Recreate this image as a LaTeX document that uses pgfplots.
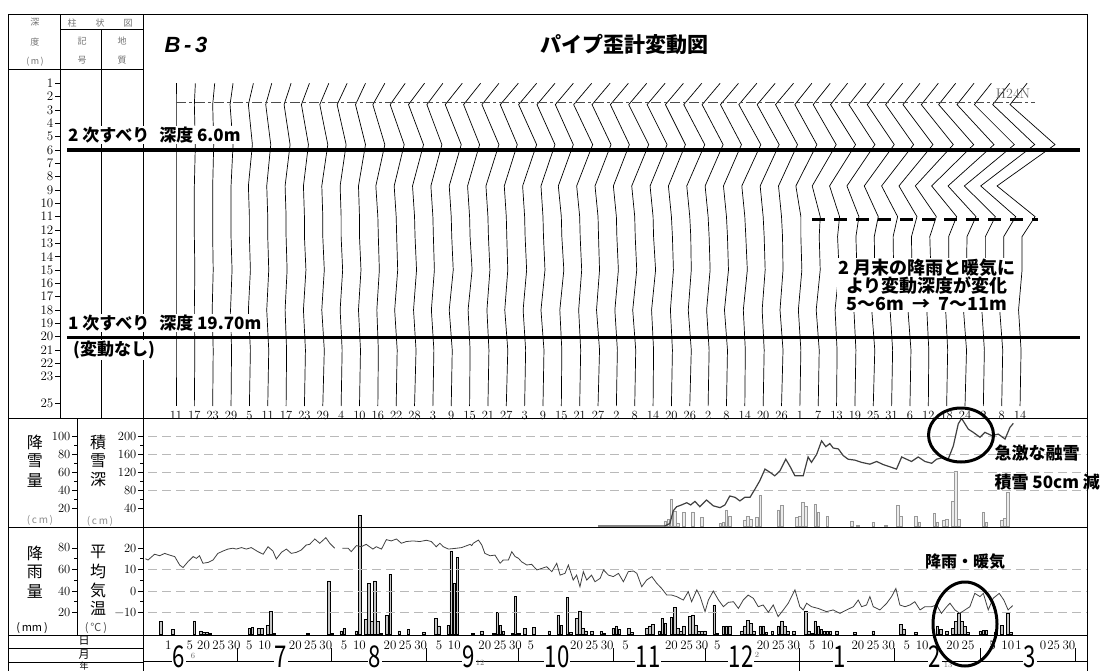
\documentclass[border=0pt]{standalone}
\usepackage{fontspec}
\usepackage{graphicx}
\usepackage{pgfplots}
\pgfplotsset{compat=1.18}
\usepackage{pgfplotstable}
\newfontfamily\jp{Noto Sans CJK JP}
\newfontfamily\lsans{Liberation Sans}
\newcommand{\fs}[1]{\fontsize{#1}{#1}\selectfont}
\pgfplotsset{/pgf/number format/assume math mode=true}

% pipe strain profiles: horizontal offset (px) at each depth (m), one column per reading
\pgfplotstableread{
d p0 p1 p2 p3 p4 p5 p6 p7 p8 p9 p10 p11 p12 p13 p14 p15 p16 p17 p18 p19 p20 p21 p22 p23 p24 p25 p26 p27 p28 p29 p30 p31 p32 p33 p34 p35 p36 p37 p38 p39 p40 p41 p42 p43 p44 p45 p46
1 0 1 2 2 4 4 5 5 6 6 6 7 9 10 10 11 11 11 12 12 12 12 12 12 12 12 12 12 12 12 12 12 12 12 12 12 11 11 11 11 10 10 9 9 8 8 7
2.6 0 0 0 -1 -1 -2 -2 -3 -3 -4 -4 -5 -6 -6 -6 -6 -6 -6 -6 -6 -6 -6 -6 -6 -6 -6 -6 -6 -6 -6 -6 -6 -6 -6 -5 -5 -6 -6 -6 -6 -7 -7 -8 -8 -9 -9 -10
5.6 0 1 1 2 3 3 4 4 5 5 6 7 8 9 9 10 10 11 11 12 12 12 13 13 13 14 14 14 15 15 15 16 16 16 17 18 19 20 21 22 23 25 27 29 31 33 35
8.7 0 0 0 0 -1 -1 -1 -1 -1 -1 -1 -2 -2 -2 -2 -2 -2 -2 -2 -2 -2 -3 -3 -3 -3 -3 -3 -3 -3 -3 -3 -3 -3 -3 -4 -6 -7 -8 -9 -10 -11 -13 -15 -17 -19 -21 -23
11 0 0 0 0 0 0 0 0 0 0 0 0 0 0 0 0 0 0 0 0 0 0 0 0 0 0 0 0 0 0 0 0 0 0 1 2 3 4 5 6 7 8 10 11 12 14 15
12.5 0 0 0 0 0 0 0 0 0 0 0 0.5 0.5 0.5 0.5 0.5 0.5 0.5 0.5 0.5 0.5 0.5 0.5 0.5 0.5 0.5 0.5 1 1 1 1 1 1 1 1 1 1 1 1 1.5 1.5 1.5 2 2 2 2 2
15 0 0.5 0.5 1 1 1 1 1.5 1.5 1.5 1.5 1.5 1.5 2 1.5 2 2.5 2 1.5 2 2 2.5 2 1.5 2 2 2.5 2 1.5 2 2 2.5 2 1.5 2 2 2.5 2 1.5 2 2 2.5 2 1.5 2 2 2
18 0 0 -0.5 -0.5 -1 -1 -1 -1 -1 -1 -1 -1 -1.5 -1 -1.5 -2 -1.5 -1 -1.5 -1.5 -2 -1.5 -1 -1.5 -1.5 -2 -1.5 -1 -1.5 -1.5 -2 -1.5 -1 -1.5 -1.5 -2 -1.5 -1 -1.5 -1.5 -2 -1.5 -1 -1.5 -1.5 -2 -1.5
21 0 0.5 0.5 0.5 1 1 0.5 1 1.5 1 1 0.5 1 1.5 1 1 0.5 1 1.5 1 1 0.5 1 1.5 1 1 0.5 1 1.5 1 1 0.5 1 1.5 1 1 0.5 1 1.5 1 1 0.5 1 1.5 1 1 1
25.2 0 0 0 0 0 0 0 0 0 0 0 0 0 0 0 0 0 0 0 0 0 0 0 0 0 0 0 0 0 0 0 0 0 0 0 0 0 0 0 0 0 0 0 0 0 0 0
}\prof

\begin{document}
\begin{tikzpicture}
\path[use as bounding box] (0pt,0pt) rectangle (1100pt,-671pt);

% ---------------- strain profiles ----------------
\begin{axis}[
  at={(60pt,-15pt)}, anchor=north west, scale only axis,
  width=1027pt, height=403pt,
  xmin=-27.93, xmax=307.9, ymin=-26.1, ymax=4.12,
  axis line style={line width=1pt},
  ytick={-25,-23,-22,-21,-20,-19,-18,-17,-16,-15,-14,-13,-12,-11,-10,-9,-8,-7,-6,-5,-4,-3,-2,-1},
  yticklabels={25,23,22,21,20,19,18,17,16,15,14,13,12,11,10,9,8,7,6,5,4,3,2,1},
  ytick pos=left, tick align=outside, major tick length=5pt,
  tick style={black, line width=0.7pt},
  yticklabel style={font=\fs{13}, inner sep=1.5pt},
  xtick={10,16,...,286},
  xticklabels={11,17,23,29,5,11,17,23,29,4,10,16,22,28,3,9,15,21,27,3,9,15,21,27,2,8,14,20,26,2,8,14,20,26,1,7,13,19,25,31,6,12,18,24,2,8,14},
  x tick style={draw=none},
  xticklabel style={font=\fs{12.5}, anchor=south, inner sep=1pt, yshift=2.5pt},
]
\pgfplotsinvokeforeach{0,...,46}{
  \addplot[black, line width=0.7pt] table[x expr={10+6*#1+\thisrow{p#1}/3.058}, y expr={-\thisrow{d}}]{\prof};
}
\addplot[black!70, line width=0.6pt, dash pattern=on 10pt off 3pt on 3pt off 3pt] coordinates {(10,-2.43) (291,-2.43)};
\addplot[black, line width=3.5pt] coordinates {(-25.6,-6) (305.6,-6)};
\addplot[black, line width=3.5pt] coordinates {(-25.6,-20.05) (305.6,-20.05)};
\addplot[black, line width=3pt, dash pattern=on 13pt off 9pt] coordinates {(218,-11.2) (292,-11.2)};
\end{axis}

% ---------------- snowfall (left axis) ----------------
\begin{axis}[
  at={(77pt,-418pt)}, anchor=north west, scale only axis,
  width=1010pt, height=109pt,
  xmin=-22.37, xmax=307.9, ymin=-1.1, ymax=120,
  axis y line*=left, hide x axis,
  axis line style={line width=1pt},
  ytick={20,40,60,80,100}, minor y tick num=1,
  tick align=outside, major tick length=5pt, minor tick length=3pt,
  tick style={black, line width=0.7pt},
  yticklabel style={font=\fs{12.5}, inner sep=1.5pt},
]
\addplot[ybar, bar width=0.85, draw=gray!80, fill=gray!15, line width=0.5pt] coordinates {
(170,5.6)(171,7.4)(172,29.6)(173,16.7)(174,3.0)(176,14.8)(179,15.6)(182,9.3)(188,3.0)(189,4.4)(190,17.8)(191,10.4)(196,6.7)(197,11.1)(198,7.4)(200,9.3)(201,34.1)(207,17.8)(208,23.0)(213,9.3)(214,10.4)(215,25.9)(216,21.5)(219,24.1)(220,14.8)(223,11.1)(231,5.6)(233,0.8)(238,4.4)(242,0.8)(246,23.0)(247,11.1)(252,10.4)(253,4.4)(258,14.1)(259,4.4)(261,6.7)(262,7.4)(264,27.8)(265,61.1)(266,7.4)(274,14.8)(275,4.4)(280,6.7)(281,8.1)(282,37.8)};
\end{axis}

% ---------------- snow depth ----------------
\begin{axis}[
  at={(143pt,-418pt)}, anchor=north west, scale only axis,
  width=944pt, height=109pt,
  xmin=-0.785, xmax=307.9, ymin=-2.2, ymax=241,
  axis line style={line width=1pt},
  xtick=\empty, ytick={40,80,120,160,200}, minor y tick num=1, ytick pos=left,
  tick align=outside, major tick length=5pt, minor tick length=3pt,
  tick style={black, line width=0.7pt},
  yticklabel style={font=\fs{12.5}, inner sep=1.5pt},
]
\pgfplotsinvokeforeach{80,120,160,200}{
  \addplot[gray!55, line width=0.7pt, dash pattern=on 9pt off 5pt] coordinates {(1,#1) (307.9,#1)};
}
\addplot[black!75, line width=1.2pt] coordinates {
(148,0)(169,0)(169.9,0.4)(171.5,5.6)(172.6,34)(173.7,43)(175.3,47)(177,52)(178.3,47)(179.7,55)(181.3,43)(183.5,58)(185.7,45)(187.9,41)(189.5,47)(191.1,67)(192.8,64)(194.4,56)(196,64)(197.7,64)(199.3,82)(200.9,101)(202.6,127)(204.2,120)(205.8,112)(207.5,123)(209.4,149)(210.7,134)(212.4,112)(215.1,112)(216.7,154)(217.8,142)(219.5,160)(221.1,190)(222.5,177)(223.8,184)(224.9,174)(226.6,172)(228.2,157)(229.8,149)(232,147)(234.2,142)(236.9,138)(239.1,144)(241.3,137)(243.5,132)(245.6,127)(247.3,154)(248.9,149)(250.5,144)(252.7,154)(254.9,144)(257.1,140)(258.7,149)(260.9,153)(262.5,149)(264.2,179)(265.8,228)(266.9,240)(269.1,216)(270.7,209)(272.9,198)(274.5,209)(276.7,202)(278.9,205)(281.1,194)(282.7,220)(283.8,229)};
\end{axis}

% ---------------- rainfall (left axis) ----------------
\begin{axis}[
  at={(77pt,-527pt)}, anchor=north west, scale only axis,
  width=1010pt, height=108pt,
  xmin=-22.37, xmax=307.9, ymin=-0.93, ymax=99.5,
  axis y line*=left, hide x axis, clip=false,
  axis line style={line width=1pt},
  ytick={20,40,60,80}, minor y tick num=1,
  tick align=outside, major tick length=5pt, minor tick length=3pt,
  tick style={black, line width=0.7pt},
  yticklabel style={font=\fs{12.5}, inner sep=1.5pt},
]
\addplot[ybar, bar width=0.85, draw=black, fill=gray!45, line width=0.5pt] coordinates {
(5,11.4)(9,4.4)(16,12.1)(18,2.8)(19,1.6)(20,1.2)(21,0.6)(34,5.3)(35,6.2)(37,5.3)(38,5.3)(40,7.8)(41,20.8)(42,0.6)(53,0.6)(60,49.3)(61,0.6)(64,2.8)(65,5.0)(69,2.8)(70,110)(72,13.6)(73,47.1)(74,11.4)(75,49.3)(76,11.4)(77,0.6)(79,17.4)(80,55.6)(83,2.8)(86,4.4)(91,1.2)(95,14.6)(96,7.5)(99,8.1)(100,77.2)(101,47.1)(102,71.6)(107,0.6)(110,2.8)(114,0.6)(115,20.2)(116,7.8)(117,2.8)(120,0.6)(121,35.3)(122,0.6)(124,5.3)(127,6.2)(132,2.8)(135,17.1)(136,8.1)(138,33.8)(139,1.6)(141,14.6)(142,21.4)(143,5.3)(144,2.8)(146,2.2)(149,2.2)(150,0.6)(153,5.3)(154,7.5)(155,4.4)(158,5.3)(159,1.2)(164,5.3)(165,7.5)(166,9.0)(168,2.8)(169,14.6)(170,9.9)(172,15.2)(173,24.5)(174,5.3)(175,2.2)(176,7.5)(178,16.1)(179,17.7)(180,8.1)(181,2.2)(182,2.2)(183,2.8)(186,27.0)(187,0.6)(189,6.8)(190,7.5)(191,7.5)(195,2.2)(196,7.5)(197,12.7)(198,9.6)(199,2.8)(201,7.5)(202,7.5)(203,1.2)(205,2.2)(207,7.5)(208,12.1)(209,7.5)(210,2.2)(212,2.2)(216,21.4)(217,2.8)(218,0.6)(219,12.1)(220,7.5)(221,4.4)(222,2.2)(223,2.2)(224,2.2)(226,2.8)(232,1.2)(238,2.8)(247,9.0)(248,4.7)(252,1.6)(259,7.5)(260,4.4)(262,2.2)(264,5.3)(265,11.5)(266,19.3)(267,11.5)(268,6.8)(269,1.6)(273,2.8)(274,3.4)(275,3.4)(278,1.6)(280,8.1)(282,19.3)(283,1.6)};
\end{axis}

% ---------------- mean temperature ----------------
\begin{axis}[
  at={(143pt,-527pt)}, anchor=north west, scale only axis,
  width=944pt, height=108pt,
  xmin=-0.785, xmax=307.9, ymin=-20.47, ymax=29.77,
  axis line style={line width=1pt},
  ytick={-10,0,10,20}, yticklabels={−10,0,10,20}, minor y tick num=1, ytick pos=left,
  tick align=outside, major tick length=5pt, minor tick length=3pt,
  tick style={black, line width=0.7pt},
  yticklabel style={font=\fs{12.5}, inner sep=1.5pt},
  xtick={7.5,14.5,19,24,29,34,39,49,54,59,65,70,80,85,90,96,101,111,116,121,126,141,146,151,157,172,177,182,187,202,207,212,218,223,233,238,243,249,254,264,269,277,282,285.5,293.5,297,302},
  xticklabels={1,5,20,25,30,5,10,20,25,30,5,10,20,25,30,5,10,20,25,30,5,20,25,30,5,20,25,30,5,20,25,30,5,10,20,25,30,5,10,20,25,5,10,1,0,25,30},
  x tick style={draw=none},
  xticklabel style={font=\fs{13}, inner sep=1pt},
  unbounded coords=jump,
]
\pgfplotsinvokeforeach{-10,0,10}{
  \addplot[gray!55, line width=0.7pt, dash pattern=on 9pt off 5pt] coordinates {(1,#1) (307.9,#1)};
}
\addplot[black!75, line width=0.8pt] coordinates {
(0,15.0)(0.85,14.4)(3,17.1)(4.7,16.4)(6.3,17.5)(7.9,16.7)(9.6,16.0)(11.2,12.1)(12.3,10.9)(13.9,13.6)(15.6,16.0)(16.7,15.2)(17.7,16.4)(18.8,12.9)(20.5,13.3)(22.1,14.4)(23.7,17.5)(25.4,18.6)(27,19.5)(28.6,19.9)(29.7,19.5)(31.4,20.2)(33,19.5)(34.6,20.2)(36.8,18.3)(38.5,17.1)(40.1,20.6)(41.7,18.6)(42.8,14.9)(44.5,18.0)(46.1,19.5)(47.7,17.5)(49.4,18.0)(51,19.1)(52.6,21.4)(53.7,21.7)(55.4,24.2)(57,22.2)(59,24.8)(60.3,22.2)(61.9,19.9)(63,nan)(64.4,19.9)(66.3,19.9)(67.3,18.3)(69,21.1)(70.6,20.6)(72.2,21.7)(74.4,19.5)(75.5,20.6)(77.2,19.5)(78.8,23.9)(80.4,23.3)(82.1,24.2)(83.7,22.2)(85.3,23.0)(87.5,23.3)(89.7,23.0)(91.9,23.6)(93.5,23.0)(95.1,20.6)(96.3,22.2)(97.4,20.6)(99.1,19.5)(101.8,19.9)(103.4,20.2)(105.1,21.1)(106.2,21.7)(106.7,21.1)(107.2,22.2)(108.9,23.7)(110,21.4)(111,17.5)(112.7,16.4)(114.3,16.7)(116,12.9)(117,14.4)(118.7,14.4)(119.8,18.3)(120.9,16.0)(122,15.2)(123,13.6)(124.7,12.1)(126.3,12.4)(128,9.8)(129.6,10.5)(131.2,11.3)(132.9,9.0)(134.5,12.9)(135.6,7.4)(137.2,8.2)(138.3,12.1)(139.9,5.1)(141,7.4)(142.1,2.0)(143.2,9.0)(144.3,5.1)(145.9,7.4)(147,4.3)(148.7,5.9)(149.8,9.8)(151.4,7.4)(153,6.7)(154.7,8.2)(156.3,4.3)(157.9,9.0)(159.6,9.3)(160.7,8.2)(162.3,2.0)(163.9,5.1)(165.6,6.7)(167.2,3.6)(168.8,1.2)(170.5,-1.9)(172.1,-1.9)(173.7,-2.6)(175.9,-4.2)(177.5,-0.3)(178.6,-5.0)(180.3,0.5)(181.4,-2.6)(183,-9.6)(184.1,-4.2)(185.7,0.0)(187.4,-4.2)(189,-7.3)(190.6,-5.3)(192.3,-5.0)(193.9,-8.1)(195.5,-4.2)(197.1,-1.9)(198.8,-3.4)(200.4,-7.3)(202,-6.5)(203.7,-9.9)(205.3,-6.5)(206.9,-11.9)(208.6,-8.8)(210.2,-5.7)(212.4,0.5)(214,-7.3)(215.1,-8.8)(216.2,-5.7)(217.8,-7.3)(220,-8.1)(222.7,-9.6)(224.9,-8.8)(227.1,-10.4)(229.3,-8.8)(231.5,-7.3)(233.1,-4.2)(234.2,-7.3)(235.8,-6.5)(236.9,-2.6)(238,-7.3)(240.2,-8.8)(242.4,-5.7)(244,-2.6)(245.4,1.2)(246.7,-6.5)(248.4,-7.3)(250,-6.5)(251.6,-5.0)(253.3,-8.8)(254.9,-7.3)(257.1,-7.3)(258.7,-6.5)(260.3,-10.4)(262,-7.3)(263.1,-5.7)(264.7,-8.8)(266.3,-10.4)(268,-8.8)(269.6,-7.3)(271.2,-1.1)(272.9,-2.6)(274,-1.1)(275.6,-8.8)(277.2,-3.4)(279.2,-1.1)(280.7,-4.2)(282.1,-8.8)(283.6,-6.8)};
\end{axis}

% ---------------- frame, table and annotations (pixel coordinates) ----------------
\begin{scope}[x=1pt,y=-1pt]
 \begin{scope}[line width=1pt]
 \draw (8,15) -- (1087,15) -- (1087,671);
 \draw (8,15) -- (8,671);
 \draw (8,70) -- (143,70);
 \draw (60,30) -- (143,30);
 \draw (60,15) -- (60,418);
 \draw (101,30) -- (101,418);
 \draw (143,15) -- (143,671);
 \draw (8,418) -- (1087,418);
 \draw (8,527) -- (1087,527);
 \draw (8,635) -- (1087,635);
 \draw (77,418) -- (77,635);
 \draw (8,648) -- (143,648);
 \draw (8,662) -- (143,662);
 \draw (143,661) -- (1087,661);
 \foreach \m in {237.1,331.9,426.7,518.5,613.3,705.0,894.6,980.2,1075.0} \draw (\m,648) -- (\m,661);
 \draw (799.8,648) -- (799.8,671);
 \end{scope}

 % header
 \begin{scope}[text=black!55, font=\jp\fs{9}]
 \node at (35,22) {深}; \node at (35,42) {度}; \node at (35,62) {(\,m\,)};
 \node at (72,23) {柱}; \node at (100,23) {状}; \node at (128,23) {図};
 \node at (82,41) {記}; \node at (82,60) {号};
 \node at (122,41) {地}; \node at (122,60) {質};
 \end{scope}
 \node[font=\lsans\bfseries\itshape\fs{22}] at (186,45) {B\,-\,3};
 \node[font=\jp\bfseries\fs{21}] at (624,45) {パイプ歪計変動図};

 % slip annotations
 \node[anchor=west, font=\jp\bfseries\fs{17}, fill=white, inner sep=1pt] at (67,135) {2 次すべり\hspace{10pt}深度 6.0m};
 \node[anchor=west, font=\jp\bfseries\fs{17}, fill=white, inner sep=1pt] at (67,323) {1 次すべり\hspace{10pt}深度 19.70m};
 \node[anchor=west, font=\jp\bfseries\fs{17}, fill=white, inner sep=1pt] at (72,350) {(変動なし)};
 \node[font=\jp\bfseries\fs{18}, align=center, fill=white, inner sep=1pt] at (927,285)
   {\fontsize{18}{23}\selectfont 2 月末の降雨と暖気に\\より変動深度が変化\\5～6m\hspace{8pt}→\hspace{8pt}7～11m};
 \node[font=\fs{14}, text=black!60] at (1013,94) {H24N};

 % panel labels
 \begin{scope}[font=\jp\fs{16}]
 \node at (35,442) {降}; \node at (35,461) {雪}; \node at (35,480) {量};
 \node at (98,442) {積}; \node at (98,461) {雪}; \node at (98,480) {深};
 \node at (35,553) {降}; \node at (35,572) {雨}; \node at (35,591) {量};
 \node at (98,552) {平}; \node at (98,571) {均}; \node at (98,590) {気}; \node at (98,608) {温};
 \end{scope}
 \begin{scope}[font=\jp\fs{10}, text=black!45]
 \node at (40,520) {(\,c\,m\,)}; \node at (100,521) {(\,c\,m\,)};
 \end{scope}
 \node[font=\jp\fs{11}] at (32,628) {(\,mm\,)};
 \node[font=\jp\fs{11}, text=black!70] at (96,628) {(\,℃\,)};
 \node[font=\jp\fs{11}] at (84,641) {日};
 \node[font=\jp\fs{11}] at (84,655) {月};
 \node[font=\jp\fs{9}, inner sep=0.5pt] at (84,666) {年};

 % big month numbers
 \foreach \x/\m in {179/6,281/7,375/8,469/9,557/10,648/11,741/12,840/1,935/2,1030/3}
   \node[fill=white, inner sep=0.5pt, anchor=base, font=\jp\fs{30}] at (\x,667.5) {\scalebox{0.74}[1]{\m}};
 \begin{scope}[font=\fs{8}, text=black!60]
 \node at (193,656) {6}; \node at (480,663) {12}; \node at (757,655) {2}; \node at (948,665) {13};
 \end{scope}

 % remarks
 \node[anchor=west, font=\jp\bfseries\fs{17}] at (991,453) {急激な融雪};
 \node[anchor=west, font=\jp\bfseries\fs{17}] at (991,482) {積雪 50cm 減};
 \node[font=\jp\bfseries\fs{16}] at (965,562) {降雨・暖気};
 \draw[line width=3pt] (961,435) ellipse [x radius=32.5, y radius=27];
 \draw[line width=3pt] (965,624) ellipse [x radius=32, y radius=42];
\end{scope}
\end{tikzpicture}
\end{document}
